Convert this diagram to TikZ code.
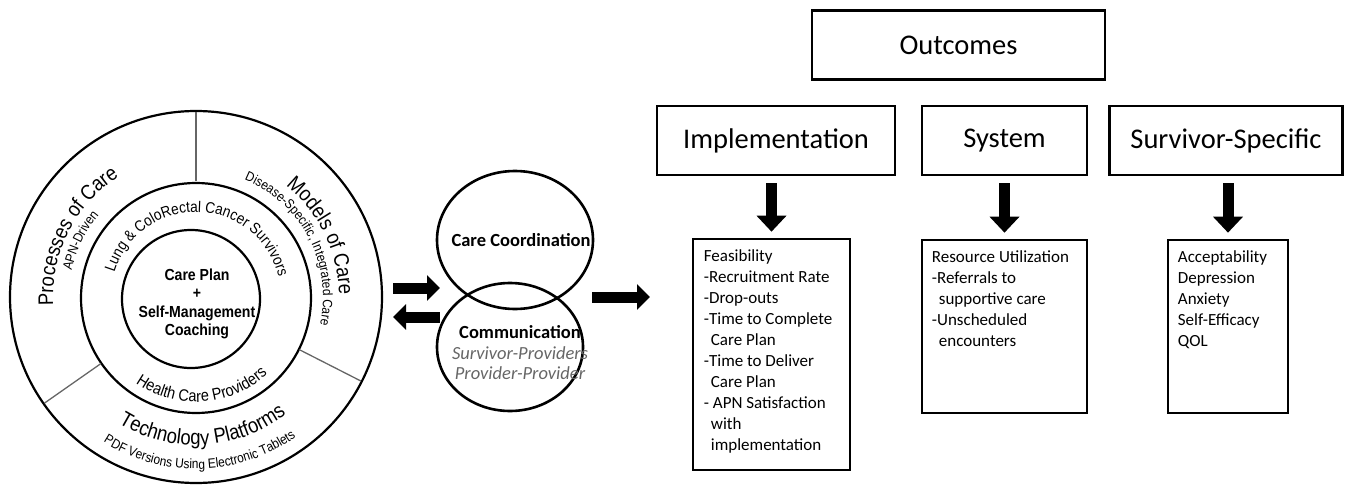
\documentclass[tikz,border=0pt]{standalone}
\usepackage{fontspec}
\setmainfont{Carlito}
\newfontfamily\arialfont{Liberation Sans}
\newfontfamily\narrowfont[FakeStretch=0.88]{Liberation Sans}
\usetikzlibrary{arrows.meta, decorations.text, shapes.geometric}

\begin{document}
\begin{tikzpicture}[x=1pt, y=1pt,
    hdr/.style={draw, line width=2.6pt, minimum height=69pt, inner sep=0pt, font=\fontsize{28.5}{30}\selectfont},
    listbox/.style={draw, line width=2.6pt, inner sep=0pt},
    listtext/.style={anchor=north west, align=left, inner sep=0pt, font=\fontsize{17}{21}\selectfont},
    ring/.style={draw, circle, line width=2.2pt, inner sep=0pt},
    venn/.style={draw, ellipse, line width=2.6pt, inner sep=0pt},
    fatarrow/.style={line width=11pt, -{Triangle[length=13pt, width=25pt]}},
    downarrow/.style={line width=11pt, -{Triangle[length=16pt, width=29pt]}},
    divider/.style={draw=black!60, line width=1.3pt},
    ringtext/.style={decorate, decoration={text along path, text align=center, text={#1}}}
]
    \useasboundingbox (0,0) rectangle (1349,491);

    % LEFT: NESTED CIRCLES
    \coordinate (ctr) at (196,194);
    \node[ring, minimum size=372pt] (outer) at (ctr) {};
    \node[ring, minimum size=230pt] (middle) at (196,193) {};
    \node[ring, minimum size=138pt] (core) at (191,192) {};
    \node[align=center, font=\narrowfont\bfseries\fontsize{16}{18.5}\selectfont] (coretext) at (197,187)
        {Care Plan\\+\\Self-Management\\Coaching};

    % Dividers of the outer ring
    \foreach \a in {90,-27,215}
        \draw[divider] (ctr) ++(\a:116) -- ++(\a:69);

    % Ring labels
    \path[ringtext={|\narrowfont\fontsize{21}{21}\selectfont|Processes of Care}]
        (ctr) ++(205:143) arc[start angle=205, end angle=101, radius=143];
    \path[ringtext={|\narrowfont\fontsize{13.5}{13.5}\selectfont|APN-Driven}]
        (ctr) ++(190:127) arc[start angle=190, end angle=118, radius=127];
    \path[ringtext={|\narrowfont\fontsize{21}{21}\selectfont|Models of Care}]
        (ctr) ++(78:143) arc[start angle=78, end angle=-26, radius=143];
    \path[ringtext={|\narrowfont\fontsize{13.5}{13.5}\selectfont|Disease-Specific, Integrated Care}]
        (ctr) ++(84:127) arc[start angle=84, end angle=-29, radius=127];
    \path[ringtext={|\narrowfont\fontsize{15.5}{15.5}\selectfont|Lung {\&} ColoRectal Cancer Survivors}]
        (ctr) ++(176:85) arc[start angle=176, end angle=1, radius=85];
    \path[ringtext={|\narrowfont\fontsize{16.5}{16.5}\selectfont|Health Care Providers}]
        (ctr) ++(221:105) arc[start angle=221, end angle=327, radius=105];
    \path[ringtext={|\narrowfont\fontsize{21}{21}\selectfont|Technology Platforms}]
        (ctr) ++(225:148) arc[start angle=225, end angle=321, radius=148];
    \path[ringtext={|\narrowfont\fontsize{13.5}{13.5}\selectfont|PDF Versions Using Electronic Tablets}]
        (ctr) ++(225:172) arc[start angle=225, end angle=318, radius=172];

    % MIDDLE: OVERLAPPING OVALS
    \node[venn, minimum width=156pt, minimum height=138pt] (coord) at (515,251) {};
    \node[venn, minimum width=146pt, minimum height=128pt] (comm) at (510,144) {};
    \node[font=\bfseries\fontsize{18.5}{20}\selectfont] (coordtext) at (521,251) {Care Coordination};
    \node[align=center, font=\fontsize{18.5}{20.5}\selectfont] (commtext) at (520,138)
        {\textbf{Communication}\\\textcolor{black!60}{\itshape Survivor-Providers}\\\textcolor{black!60}{\itshape Provider-Provider}};

    \coordinate (vennleft) at (440,194);
    \coordinate (vennright) at (592,194);
    \coordinate (outarrow) at (650,194);
    \draw[fatarrow, shorten <=10pt] ([yshift=9pt]outer.east) -- ([yshift=9pt]vennleft);
    \draw[fatarrow, shorten >=10pt] ([yshift=-20pt]vennleft) -- ([yshift=-20pt]outer.east);
    \draw[fatarrow] (vennright) -- (outarrow);

    % RIGHT: OUTCOMES
    \node[hdr, minimum width=293pt] (outcomes) at (958.5,446) {Outcomes};
    \node[hdr, minimum width=238pt] (impl) at (776,350.5) {Implementation};
    \node[hdr, minimum width=165pt] (sys) at (1004.5,350.5) {System};
    \node[hdr, minimum width=233pt] (surv) at (1226,350.5) {Survivor-Specific};

    \node[listbox, minimum width=157pt, minimum height=231pt] (impllist) at (771.5,136.5) {};
    \node[listbox, minimum width=165pt, minimum height=173pt] (syslist) at (1004.5,164.5) {};
    \node[listbox, minimum width=120pt, minimum height=173pt] (survlist) at (1228,164.5) {};

    \draw[downarrow, shorten <=7pt, shorten >=6pt] (impl.south -| impllist.north) -- (impllist.north);
    \draw[downarrow, shorten <=7pt, shorten >=6pt] (sys.south -| syslist.north) -- (syslist.north);
    \draw[downarrow, shorten <=7pt, shorten >=6pt] (surv.south -| survlist.north) -- (survlist.north);

    \node[listtext] (impltext) at ([xshift=12pt, yshift=-12pt]impllist.north west)
        {Feasibility\\-Recruitment Rate\\-Drop-outs\\-Time to Complete\\\hspace*{7pt}Care Plan\\-Time to Deliver\\\hspace*{7pt}Care Plan\\- APN Satisfaction\\\hspace*{7pt}with\\\hspace*{7pt}implementation};
    \node[listtext] (systext) at ([xshift=11pt, yshift=-12pt]syslist.north west)
        {Resource Utilization\\-Referrals to\\\hspace*{7pt}supportive care\\-Unscheduled\\\hspace*{7pt}encounters};
    \node[listtext] (survtext) at ([xshift=11pt, yshift=-12pt]survlist.north west)
        {Acceptability\\Depression\\Anxiety\\Self-Efficacy\\QOL};
\end{tikzpicture}
\end{document}
